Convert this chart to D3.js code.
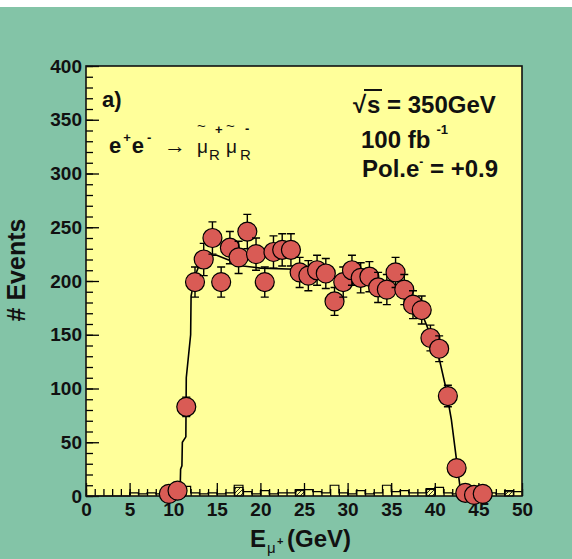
<!DOCTYPE html>
<html>
<head>
<meta charset="utf-8">
<script src="https://cdn.jsdelivr.net/npm/d3@7"></script>
<style>
  html, body { margin: 0; padding: 0; background: #fff; }
  svg { display: block; font-family: "Liberation Sans", Arial, Helvetica, sans-serif; }
</style>
</head>
<body>
<svg id="vis" width="572" height="559"></svg>
<script>
'use strict';

// signal points: bin centre (GeV), events, error
var binCenters = [9.5, 10.5, 11.5, 12.5, 13.5, 14.5, 15.5, 16.5, 17.5, 18.5,
                  19.5, 20.5, 21.5, 22.5, 23.5, 24.5, 25.5, 26.5, 27.5, 28.5,
                  29.5, 30.5, 31.5, 32.5, 33.5, 34.5, 35.5, 36.5, 37.5, 38.5,
                  39.5, 40.5, 41.5, 42.5, 43.5, 44.5, 45.5];
var counts = [2, 5, 83, 199, 220, 240, 199, 231, 222, 246,
              225, 199, 227, 229, 229, 208, 205, 210, 207, 181,
              199, 210, 203, 204, 194, 192, 208, 192, 178, 173,
              147, 137, 93, 26, 3, 1, 2];
var errors = [1, 2, 9, 14, 15, 15, 14, 15, 15, 16,
              15, 14, 15, 15, 15, 14, 14, 14, 14, 13,
              14, 14, 14, 14, 14, 14, 14, 14, 13, 13,
              12, 12, 10, 5, 2, 1, 1];

// fitted spectrum (line)
var fitE = [10.5, 10.8, 10.85, 11.0, 11.05, 11.45, 11.5, 12.0, 12.05, 12.5, 13.0, 14.0, 15.0,
            16.5, 18.0, 20.0, 24.0, 28.0, 32.0, 35.0, 37.0, 38.5, 39.5, 40.5, 41.2,
            41.9, 42.5, 42.9, 43.2];
var fitN = [0, 8, 25, 28, 50, 55, 110, 150, 186, 205, 215, 224, 224,
            219, 214, 212, 211, 205, 199, 194, 186, 170, 150, 128, 103,
            71, 33, 8, 0];

// background, 1 GeV bins from 0 to 50
var bkgEvents = [0, 0, 0, 0, 0, 3, 2, 3, 2, 3,
                 10, 9, 3, 2, 3, 2, 3, 10, 4, 2,
                 5, 2, 3, 3, 6, 6, 4, 3, 10, 3,
                 2, 5, 2, 3, 10, 4, 5, 3, 3, 7,
                 8, 3, 2, 3, 2, 4, 3, 2, 5, 4];
// hatched background component, [bin low edge, events]
var bkgHatchBins = [17, 24, 39, 48];
var bkgHatchEvents = [8, 5, 6, 4];

var xTicks = [0, 5, 10, 15, 20, 25, 30, 35, 40, 45, 50];
var yTicks = [0, 50, 100, 150, 200, 250, 300, 350, 400];

(function () {
    var svg = d3.select('#vis');
    var left = 86, top = 66, right = 522, bottom = 496;

    // page colours
    svg.append('rect').attr('x', 0).attr('y', 7).attr('width', 572).attr('height', 552)
        .attr('fill', '#83C4A7');
    svg.append('rect').attr('x', left).attr('y', top)
        .attr('width', right - left).attr('height', bottom - top)
        .attr('fill', '#FFFF9A');

    var x = d3.scaleLinear().domain([0, 50]).range([left, right]);
    var y = d3.scaleLinear().domain([0, 400]).range([bottom, top]);

    var defs = svg.append('defs');
    var pat = defs.append('pattern').attr('id', 'hatch')
        .attr('patternUnits', 'userSpaceOnUse').attr('width', 4).attr('height', 4);
    pat.append('path').attr('d', 'M0,4 L4,0').attr('stroke', '#000').attr('stroke-width', 0.8);

    // hatched background bins
    svg.append('g').selectAll('rect')
        .data(bkgHatchBins)
        .enter().append('rect')
        .attr('x', function (d) { return x(d); })
        .attr('width', function (d) { return x(d + 1) - x(d); })
        .attr('y', function (d, i) { return y(bkgHatchEvents[i]); })
        .attr('height', function (d, i) { return bottom - y(bkgHatchEvents[i]); })
        .attr('fill', 'url(#hatch)')
        .attr('stroke', '#000').attr('stroke-width', 1);

    // background step histogram
    var stepPts = [];
    bkgEvents.forEach(function (v, i) {
        stepPts.push([i, v]);
        stepPts.push([i + 1, v]);
    });
    svg.append('path')
        .datum(stepPts)
        .attr('fill', 'none').attr('stroke', '#000').attr('stroke-width', 1.2)
        .attr('d', d3.line().x(function (d) { return x(d[0]); }).y(function (d) { return y(d[1]); }));

    // fit curve
    svg.append('path')
        .datum(fitE.map(function (e, i) { return [e, fitN[i]]; }))
        .attr('fill', 'none').attr('stroke', '#000').attr('stroke-width', 1.6)
        .attr('d', d3.line().x(function (d) { return x(d[0]); }).y(function (d) { return y(d[1]); }));

    // axes, ticks pointing inwards
    var fontTick = '19px';
    var xMinor = svg.append('g').attr('transform', 'translate(0,' + bottom + ')')
        .call(d3.axisBottom(x).tickValues(d3.range(0, 51, 1)).tickSizeInner(-7).tickSizeOuter(0).tickFormat(''));
    var xAxis = svg.append('g').attr('transform', 'translate(0,' + bottom + ')')
        .call(d3.axisBottom(x).tickValues(xTicks).tickSizeInner(-13).tickSizeOuter(0).tickPadding(7));
    var yMinor = svg.append('g').attr('transform', 'translate(' + left + ',0)')
        .call(d3.axisLeft(y).tickValues(d3.range(0, 401, 10)).tickSizeInner(-7).tickSizeOuter(0).tickFormat(''));
    var yAxis = svg.append('g').attr('transform', 'translate(' + left + ',0)')
        .call(d3.axisLeft(y).tickValues(yTicks).tickSizeInner(-13).tickSizeOuter(0).tickPadding(4));

    [xMinor, xAxis, yMinor, yAxis].forEach(function (g) {
        g.selectAll('line').attr('stroke', '#000').attr('stroke-width', 1.3);
        g.select('.domain').remove();
        g.selectAll('text').attr('font-size', fontTick).attr('font-weight', 'bold')
            .attr('fill', '#111').attr('font-family', '"Liberation Sans", Arial, sans-serif');
    });

    // frame
    svg.append('rect').attr('x', left).attr('y', top)
        .attr('width', right - left).attr('height', bottom - top)
        .attr('fill', 'none').attr('stroke', '#111').attr('stroke-width', 1.6);

    // data points: error bar then marker
    var r = 9.5;
    var pts = svg.append('g').selectAll('g')
        .data(binCenters)
        .enter().append('g');
    pts.append('path')
        .attr('fill', 'none').attr('stroke', '#000').attr('stroke-width', 1.4)
        .attr('d', function (d, i) {
            var cx = x(d), yt = y(counts[i] + errors[i]), yb = y(counts[i] - errors[i]);
            return 'M' + cx + ',' + yt + 'V' + yb +
                'M' + (cx - 4) + ',' + yt + 'H' + (cx + 4) +
                'M' + (cx - 4) + ',' + yb + 'H' + (cx + 4);
        });
    pts.append('circle')
        .attr('cx', function (d) { return x(d); })
        .attr('cy', function (d, i) { return y(counts[i]); })
        .attr('r', r)
        .attr('fill', '#D95B55').attr('stroke', '#000').attr('stroke-width', 1.2);

    // axis titles
    svg.append('text')
        .attr('transform', 'translate(25,270) rotate(-90)')
        .attr('text-anchor', 'middle')
        .attr('font-size', '25px').attr('font-weight', 'bold').attr('fill', '#111')
        .text('# Events');

    svg.append('text').attr('x', 250).attr('y', 547)
        .attr('font-size', '24px').attr('font-weight', 'bold').attr('fill', '#111').text('E');
    svg.append('text').attr('x', 267).attr('y', 553)
        .attr('font-size', '15px').attr('fill', '#111').text('μ');
    svg.append('text').attr('x', 277).attr('y', 545)
        .attr('font-size', '11px').attr('font-weight', 'bold').attr('fill', '#111').text('+');
    svg.append('text').attr('x', 287).attr('y', 547)
        .attr('font-size', '24px').attr('font-weight', 'bold').attr('fill', '#111').text('(GeV)');

    // panel label and process
    svg.append('text').attr('x', 102).attr('y', 107)
        .attr('font-size', '22px').attr('font-weight', 'bold').attr('fill', '#111').text('a)');

    var proc = svg.append('g').attr('fill', '#111');
    var ee = proc.append('text').attr('x', 109).attr('y', 153)
        .attr('font-size', '22px').attr('font-weight', 'bold');
    ee.append('tspan').text('e');
    ee.append('tspan').attr('dx', 2).attr('dy', -11).attr('font-size', '13px').text('+');
    ee.append('tspan').attr('dx', 1).attr('dy', 11).text('e');
    ee.append('tspan').attr('dx', 3).attr('dy', -11).attr('font-size', '13px').text('-');
    proc.append('text').attr('x', 164).attr('y', 153).attr('font-size', '22px').text('→');
    proc.append('text').attr('x', 197).attr('y', 153).attr('font-size', '19px').text('μ');
    proc.append('text').attr('x', 197).attr('y', 131).attr('font-size', '15px').text('~');
    proc.append('text').attr('x', 209).attr('y', 160).attr('font-size', '15px').text('R');
    proc.append('text').attr('x', 215).attr('y', 134).attr('font-size', '13px').attr('font-weight', 'bold').text('+');
    proc.append('text').attr('x', 226).attr('y', 153).attr('font-size', '19px').text('μ');
    proc.append('text').attr('x', 226).attr('y', 131).attr('font-size', '15px').text('~');
    proc.append('text').attr('x', 240).attr('y', 160).attr('font-size', '15px').text('R');
    proc.append('text').attr('x', 245).attr('y', 133).attr('font-size', '13px').attr('font-weight', 'bold').text('-');

    // beam conditions
    var info = svg.append('g').attr('fill', '#111').attr('font-weight', 'bold');
    info.append('text').attr('x', 353).attr('y', 113).attr('font-size', '24px').text('√');
    info.append('line').attr('x1', 364).attr('x2', 382).attr('y1', 90).attr('y2', 90)
        .attr('stroke', '#111').attr('stroke-width', 2);
    info.append('text').attr('x', 367).attr('y', 113).attr('font-size', '24px').text('s = 350GeV');
    var lumi = info.append('text').attr('x', 361).attr('y', 148).attr('font-size', '24px');
    lumi.append('tspan').text('100 fb');
    lumi.append('tspan').attr('dx', 6).attr('dy', -14).attr('font-size', '13px').text('-1');
    var pol = info.append('text').attr('x', 362).attr('y', 177).attr('font-size', '24px');
    pol.append('tspan').text('Pol.e');
    pol.append('tspan').attr('dy', -11).attr('font-size', '12px').text('-');
    pol.append('tspan').attr('dy', 11).text(' = +0.9');
})();
</script>
</body>
</html>
